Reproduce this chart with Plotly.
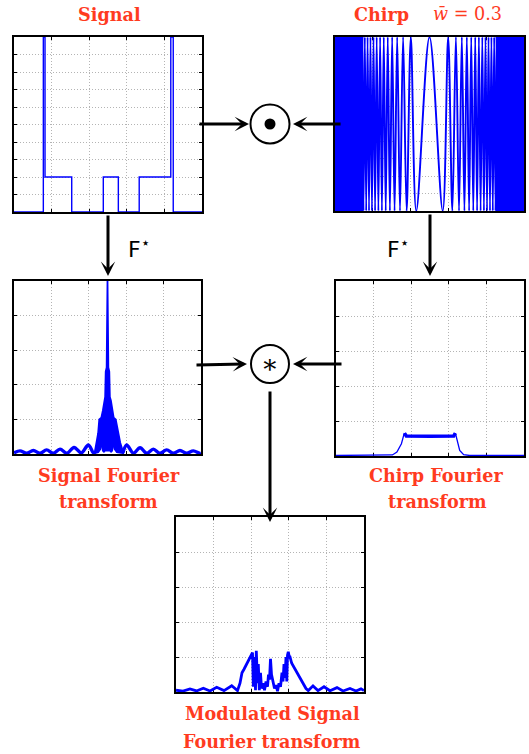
import plotly.graph_objects as go

W, H = 529, 754
BLUE = "#0000ff"
RED = "#ff3b1f"

# ---------------- data ----------------
# Signal (piecewise constant, value held from each edge to the next)
signal_edges = [0.0, 0.156, 0.165, 0.307, 0.475, 0.555, 0.666, 0.834, 0.847, 1.0]
signal_levels = [0.0, 1.0, 0.2, 0.0, 0.2, 0.0, 0.2, 1.0, 0.0, 0.0]

# Chirp: positions of successive extrema away from the centre (normalised half-width)
chirp_extrema = [0.1397, 0.1975, 0.2419, 0.2794, 0.3123, 0.3421, 0.3696, 0.3951,
                 0.4190, 0.4417, 0.4633, 0.4839, 0.5036, 0.5226, 0.5410, 0.5587,
                 0.5759, 0.5926, 0.6089, 0.6247, 0.6401, 0.6552, 0.6699, 0.6843,
                 0.6984, 0.7122, 0.7258, 0.7391, 0.7522, 0.7651]
chirp_centre_value = 1.0
chirp_dense_from = 0.70   # beyond this the oscillations merge into solid blue

# Signal Fourier transform: central burst (upper / lower envelopes)
sft_up_x = [-0.136, -0.118, -0.1, -0.088, -0.066, -0.05, -0.036, -0.025, -0.019, -0.009,
            0.0, 0.009, 0.019, 0.025, 0.036, 0.05, 0.066, 0.088, 0.118, 0.136, 0.168]
sft_up_y = [0.01, 0.065, 0.12, 0.2, 0.21, 0.25, 0.31, 0.33, 0.476, 0.5,
            1.0, 0.5, 0.476, 0.33, 0.31, 0.25, 0.21, 0.2, 0.12, 0.065, 0.01]
sft_lo_x = [0.168, 0.10, 0.075, 0.062, 0.05, 0.035, 0.027, 0.018, 0.0,
            -0.018, -0.027, -0.035, -0.05, -0.062, -0.075, -0.10, -0.136]
sft_lo_y = [0.005, 0.01, 0.03, 0.09, 0.02, 0.01, 0.08, 0.02, 0.02,
            0.02, 0.08, 0.01, 0.02, 0.09, 0.03, 0.01, 0.005]
# side lobes
sft_left_x = [-1.0, -0.936, -0.865, -0.793, -0.722, -0.651, -0.58, -0.508,
              -0.433, -0.358, -0.28, -0.205, -0.152, -0.134]
sft_left_y = [0.006, 0.018, 0.004, 0.02, 0.004, 0.024, 0.004, 0.028,
              0.005, 0.038, 0.006, 0.052, 0.008, 0.01]
sft_right_x = [0.166, 0.205, 0.277, 0.348, 0.42, 0.49, 0.56, 0.633,
               0.704, 0.775, 0.846, 0.918, 0.985, 1.0]
sft_right_y = [0.008, 0.052, 0.005, 0.036, 0.004, 0.028, 0.004, 0.024,
               0.004, 0.02, 0.004, 0.018, 0.004, 0.006]

# Chirp Fourier transform
cft_ramp_l_x = [0.0, 0.27, 0.30, 0.324, 0.348, 0.36, 0.364]
cft_ramp_l_y = [0.003, 0.003, 0.006, 0.023, 0.07, 0.118, 0.131]
cft_top_x = [0.364, 0.374, 0.5, 0.626, 0.635]
cft_top_y = [0.131, 0.114, 0.113, 0.114, 0.131]
cft_ramp_r_x = [0.635, 0.644, 0.658, 0.679, 0.71, 1.0]
cft_ramp_r_y = [0.131, 0.09, 0.032, 0.008, 0.003, 0.003]

# Modulated signal Fourier transform (x in pixel-like units 176..364 of panel)
mod_x = [176, 183, 190, 196.5, 203.3, 210, 216.7, 224, 231.7, 237.5, 240, 242, 244, 247, 250, 252,
         252.5, 253.3, 254.5, 255.5, 256.3, 257.5, 258.3, 259.3, 260.5, 261.5, 263, 264.5,
         266, 267.5, 268.5, 269.5, 270.5, 271.5, 273, 274.5, 276, 277.5, 279, 280.5, 282,
         283, 284, 285, 286, 286.8, 287.5, 288.3, 289.3, 290, 291.7, 296.7, 301.7, 306,
         308.3, 313, 318, 324, 330, 337, 343, 350, 356, 361, 364]
mod_y = [0.01, 0.005, 0.018, 0.006, 0.022, 0.006, 0.027, 0.008, 0.036, 0.008, 0.05, 0.11,
         0.13, 0.165, 0.2, 0.22,
         0.225, 0.03, 0.2, 0.01, 0.235, 0.05, 0.16, 0.01, 0.11, 0.02, 0.05, 0.01,
         0.06, 0.03, 0.1, 0.07, 0.19, 0.1, 0.06, 0.02, 0.04, 0.005, 0.05, 0.03, 0.11,
         0.06, 0.16, 0.08, 0.2, 0.06, 0.21, 0.23, 0.2, 0.2, 0.164, 0.116, 0.069, 0.02,
         0.008, 0.035, 0.008, 0.03, 0.007, 0.025, 0.006, 0.02, 0.006, 0.018, 0.008]
mod_x0, mod_x1 = 176, 364

# ---------------- layout helpers ----------------
def dom_x(a, b):
    return [a / W, b / W]

def dom_y(top, bottom):
    return [1 - bottom / H, 1 - top / H]

def px(x):
    return x / W

def py(y):
    return 1 - y / H

boxes = {
    1: (14, 202, 37, 212),
    2: (335, 524, 37, 211),
    3: (14, 201, 281, 454),
    4: (336, 524, 281, 456),
    5: (176, 364, 517, 692),
}

fig = go.Figure()

# 1: signal
fig.add_trace(go.Scatter(x=signal_edges, y=signal_levels, mode="lines", line_shape="hv",
                         line=dict(color=BLUE, width=1.4), xaxis="x", yaxis="y"))

# 2: chirp
cx = [-e for e in reversed(chirp_extrema)] + [0.0] + chirp_extrema
n = len(chirp_extrema)
cy_right = [(-1.0) ** (i + 1) for i in range(n)]
cy = list(reversed(cy_right)) + [chirp_centre_value] + cy_right
fig.add_trace(go.Scatter(x=cx, y=cy, mode="lines", line_shape="spline",
                         line=dict(color=BLUE, width=1.9), xaxis="x2", yaxis="y2"))
for s in (-1, 1):
    xs = [s * chirp_dense_from, s * 1.0, s * 1.0, s * chirp_dense_from]
    fig.add_trace(go.Scatter(x=xs, y=[-1, -1, 1, 1], fill="toself", fillcolor=BLUE,
                             mode="lines", line=dict(color=BLUE, width=0.5),
                             xaxis="x2", yaxis="y2"))

# 3: signal FT
fig.add_trace(go.Scatter(x=sft_up_x + sft_lo_x, y=sft_up_y + sft_lo_y, fill="toself",
                         fillcolor=BLUE, mode="lines", line=dict(color=BLUE, width=1.8),
                         xaxis="x3", yaxis="y3"))
for xs, ys in ((sft_left_x, sft_left_y), (sft_right_x, sft_right_y)):
    fig.add_trace(go.Scatter(x=xs, y=ys, mode="lines", line_shape="spline",
                             line=dict(color=BLUE, width=3.4), xaxis="x3", yaxis="y3"))

# 4: chirp FT
for xs, ys, w in ((cft_ramp_l_x, cft_ramp_l_y, 1.3), (cft_top_x, cft_top_y, 3.5),
                  (cft_ramp_r_x, cft_ramp_r_y, 1.3)):
    fig.add_trace(go.Scatter(x=xs, y=ys, mode="lines", line=dict(color=BLUE, width=w),
                             xaxis="x4", yaxis="y4"))

# 5: modulated FT
fig.add_trace(go.Scatter(x=mod_x, y=mod_y, mode="lines",
                         line=dict(color=BLUE, width=2.8), xaxis="x5", yaxis="y5"))

axis_common = dict(showline=True, linecolor="black", linewidth=1.6, mirror="ticks",
                   ticks="inside", ticklen=3, tickcolor="black", tickwidth=1,
                   showticklabels=False, showgrid=True, gridcolor="#b4b4b4",
                   griddash="1px,2px", gridwidth=1, zeroline=False, layer="below traces",
                   fixedrange=True)

ranges = {
    1: ([0, 1], 0.2, [0, 1], 0.1),
    2: ([-1, 1], 0.4, [-1, 1], 0.2),
    3: ([-1, 1], 0.4, [0, 1], 0.2),
    4: ([0, 1], 0.2, [0, 1], 0.2),
    5: ([mod_x0, mod_x1], (mod_x1 - mod_x0) / 5, [0, 1], 0.2),
}

layout_axes = {}
for k, (x0, x1, y0, y1) in boxes.items():
    xr, dx, yr, dy = ranges[k]
    xname = "xaxis" if k == 1 else f"xaxis{k}"
    yname = "yaxis" if k == 1 else f"yaxis{k}"
    xa = dict(axis_common, domain=dom_x(x0, x1), range=xr, dtick=dx, tick0=xr[0],
              anchor="y" if k == 1 else f"y{k}")
    ya = dict(axis_common, domain=dom_y(y0, y1), range=yr, dtick=dy, tick0=yr[0],
              anchor="x" if k == 1 else f"x{k}")
    layout_axes[xname] = xa
    layout_axes[yname] = ya

# arrows (tip, tail) in pixel coordinates
arrows = [
    ((249, 124), (198, 124)),
    ((293, 124), (342, 124)),
    ((108, 276), (108, 214)),
    ((430, 276), (430, 213)),
    ((247, 364), (195, 365)),
    ((293, 364), (343, 364)),
    ((270, 522), (270, 390)),
]
annotations = []
for (tx, ty), (sx, sy) in arrows:
    annotations.append(dict(x=px(tx), y=py(ty), xref="paper", yref="paper", text="",
                            showarrow=True, ax=sx - tx, ay=sy - ty, arrowhead=3,
                            arrowsize=0.8, arrowwidth=3, arrowcolor="black"))

def label(text, x, y, size=17.6, color=RED, family="DejaVu Serif"):
    annotations.append(dict(x=px(x), y=py(y), xref="paper", yref="paper", text=text,
                            showarrow=False, xanchor="center", yanchor="middle",
                            font=dict(family=family, size=size, color=color)))

label("<b>Signal</b>", 109, 14)
label("<b>Chirp</b>", 381, 14)
label("<i>w̄</i> = 0.3", 467, 14)
label("<b>Signal Fourier</b>", 109, 475)
label("<b>transform</b>", 108, 502)
label("<b>Chirp Fourier</b>", 436, 475)
label("<b>transform</b>", 437, 502)
label("<b>Modulated Signal</b>", 272, 713)
label("<b>Fourier transform</b>", 272, 741)
label("F<sup>⋆</sup>", 139, 248, size=22, color="black", family="DejaVu Sans")
label("F<sup>⋆</sup>", 398, 248, size=22, color="black", family="DejaVu Sans")
label("∗", 270, 364, size=26, color="black", family="DejaVu Serif")

shapes = []
for cyy, r in ((124, 19.5), (364, 19)):
    shapes.append(dict(type="circle", xref="paper", yref="paper",
                       x0=px(270 - r), x1=px(270 + r), y0=py(cyy + r), y1=py(cyy - r),
                       line=dict(color="black", width=2), fillcolor="rgba(0,0,0,0)"))
shapes.append(dict(type="circle", xref="paper", yref="paper",
                   x0=px(270 - 5.5), x1=px(270 + 5.5), y0=py(124 + 5.5), y1=py(124 - 5.5),
                   line=dict(color="black", width=0), fillcolor="black"))

fig.update_layout(width=W, height=H, margin=dict(l=0, r=0, t=0, b=0),
                  paper_bgcolor="white", plot_bgcolor="white", showlegend=False,
                  annotations=annotations, shapes=shapes, **layout_axes)

fig.write_html("out.html", config={"displayModeBar": False},
               post_script="document.body.style.margin='0';document.body.style.overflow='hidden';")
